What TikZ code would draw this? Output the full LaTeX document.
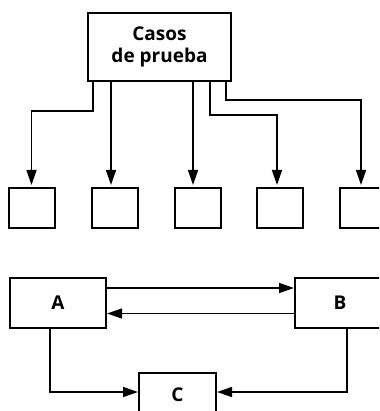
\documentclass[tikz,border=0pt]{standalone}
\usepackage{fontspec}
\setmainfont{Open Sans}
\usepackage{tikz}
\usetikzlibrary{arrows.meta,positioning,calc}
\tikzset{
  caja/.style={
    rectangle, draw=black, line width=2pt, fill=white,
    align=center, inner sep=0pt,
    font=\fontsize{19}{22}\selectfont\bfseries
  },
  cajita/.style={
    caja, minimum width=46pt, minimum height=40pt
  },
  flecha/.style={-{Triangle[length=15pt,width=10pt]}, line width=1.5pt}
}
\begin{document}
\begin{tikzpicture}[x=1pt, y=-1pt]
  \useasboundingbox (0,0) rectangle (379,411);
  \clip (0,0) rectangle (379,411);
  % casos de prueba
  \node[caja, minimum width=143pt, minimum height=68pt] (casos) at (159.5,47) {Casos\\de prueba};
  \node[cajita] (c1) at (31.5,208) {};
  \node[cajita] (c2) at (115,208) {};
  \node[cajita] (c3) at (198,208) {};
  \node[cajita] (c4) at (280,208) {};
  \node[cajita] (c5) at (363,208) {};
  \draw[flecha, shorten >=2pt] ([xshift=6pt]casos.south west) -- ++(0,29) -| (c1.north);
  \draw[flecha, shorten >=2pt] ([xshift=-4pt]c2.north |- casos.south) -- ([xshift=-4pt]c2.north);
  \draw[flecha, shorten >=2pt] ([xshift=-5pt]c3.north |- casos.south) -- ([xshift=-5pt]c3.north);
  \draw[flecha, shorten >=2pt] ([xshift=123pt]casos.south west) -- ++(0,33) -| ([xshift=-3pt]c4.north);
  \draw[flecha, shorten >=2pt] ([xshift=-6pt]casos.south east) -- ++(0,18) -| ([xshift=-2pt]c5.north);
  % A, B y C
  \node[caja, minimum width=96pt, minimum height=50pt] (A) at (58,303) {A};
  \node[caja, minimum width=90pt, minimum height=50pt] (B) at (340,302.5) {B};
  \node[caja, minimum width=77pt, minimum height=44pt] (C) at (177.5,395) {C};
  \draw[flecha] ([yshift=15pt]A.east) -- ([yshift=15pt]A.east -| B.west);
  \draw[flecha] ([yshift=-11pt]B.west) -- ([yshift=-11pt]B.west -| A.east);
  \draw[flecha] ([xshift=-8pt]A.south) |- ([yshift=3pt]C.west);
  \draw[flecha] ([xshift=7pt]B.south) |- ([yshift=3pt]C.east);
\end{tikzpicture}
\end{document}
